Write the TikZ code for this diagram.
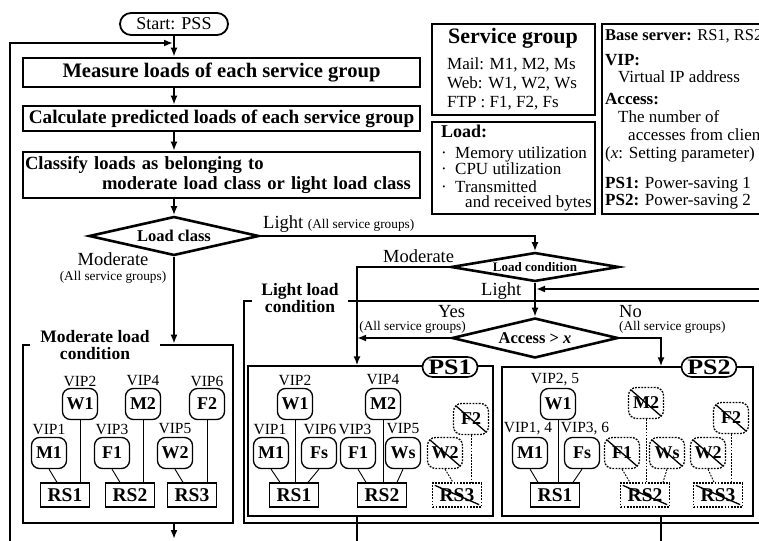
\documentclass[tikz,border=0pt]{standalone}
\usepackage{fontspec}
\usepackage{graphicx}
\setmainfont{Liberation Serif}
\usetikzlibrary{arrows.meta,shapes.geometric,calc}
\newcommand\fsz[1]{\fontsize{#1}{#1}\selectfont}
\newcommand\crossnode[1]{\draw[line width=1.3pt] ([shift={(3,3)}]#1.north west) -- ([shift={(-3,-3)}]#1.south east);}
\newcommand\widetext[1]{\scalebox{1.18}[1]{#1}}
\begin{document}
\begin{tikzpicture}[x=1pt,y=-1pt,
  conn/.style={line width=1.8pt, -{Latex[length=9pt,width=7pt]}},
  plain/.style={line width=1.8pt},
  proc/.style={draw, line width=2.6pt, minimum width=397pt, font=\fontsize{19.2}{20}\selectfont\bfseries, inner sep=2pt},
  dec/.style={draw, diamond, line width=2.6pt, inner sep=0pt},
  srv/.style={draw, rounded corners=8pt, line width=1.3pt, minimum width=35pt, minimum height=31pt, inner sep=0pt, font=\fsz{18}\bfseries},
  rsbox/.style={draw, line width=1.3pt, minimum width=49pt, minimum height=24pt, inner sep=0pt, font=\fsz{19.5}\bfseries},
  off/.style={dash pattern=on 1.8pt off 1.3pt},
  vip/.style={font=\fsz{15.5}, inner sep=0pt},
  thinl/.style={line width=0.9pt},
  lbl/.style={inner sep=0pt, anchor=base west},
  big/.style={font=\fsz{18.5}},
  small/.style={font=\fsz{13.3}},
  leg/.style={inner sep=0pt, anchor=base west, font=\fsz{17}},
  pslab/.style={draw, rounded corners=10pt, line width=1.6pt, fill=white, minimum width=55pt, minimum height=20pt, inner sep=0pt, font=\fsz{22}\bfseries},
  ptitle/.style={fill=white, inner sep=0pt, align=center, font=\fontsize{17.5}{16.5}\selectfont\bfseries}
]
\useasboundingbox (0,0) rectangle (759,540);
\clip (0,0) rectangle (759,540);

% ---------- main flow ----------
\node[draw, rounded corners=11pt, line width=1.8pt, minimum width=108pt, minimum height=22pt, inner sep=0pt, font=\fsz{18}] (start) at (174,24) {Start: PSS};
\node[proc, minimum height=29pt, font=\fsz{20.6}\bfseries] (measure) at (221.5,72.5) {Measure loads of each service group};
\node[proc, minimum height=25pt] (calc) at (221.5,118.5) {Calculate predicted loads of each service group};
\node[proc, minimum height=46pt, text width=393pt, align=left, inner xsep=0pt, inner ysep=0pt, font=\fontsize{18.6}{19.5}\selectfont\bfseries] (classify) at (221.5,175) {Classify loads as belonging to\\\hspace*{77pt}moderate load class or light load class};

\node[dec, minimum width=170pt, minimum height=39pt, aspect=4.36, font=\fsz{16.5}\bfseries] (lclass) at (174,236) {Load class};
\node[dec, minimum width=168pt, minimum height=29pt, aspect=5.8, font=\fsz{13}\bfseries] (lcond) at (535,267) {Load condition};
\node[dec, minimum width=166pt, minimum height=40pt, aspect=4.15, font=\fsz{16.5}\bfseries] (access) at (535,338) {Access > \textit{x}};

% moderate load condition box
\node[draw, line width=2.6pt, minimum width=210pt, minimum height=178pt] (modbox) at (128,434) {};
\node[ptitle, minimum width=130pt] (modtitle) at (95,345) {Moderate load\\condition};

% light load condition bracket
\draw[line width=2.6pt] (765,301) -| (244,523) -- (765,523);
\node[ptitle, minimum width=96pt] (lighttitle) at (300,298) {Light load\\condition};

% PS boxes
\node[draw, line width=1.3pt, minimum width=245pt, minimum height=150pt] (ps1) at (370.5,441) {};
\node[draw, line width=1.3pt, minimum width=251pt, minimum height=149pt] (ps2) at (627.5,441.5) {};
\node[pslab] (ps1lab) at (450,367) {\widetext{PS1}};
\node[pslab] (ps2lab) at (709,367) {\widetext{PS2}};

% coordinates
\coordinate (loopbot) at (10,545);
\coordinate (loopjoin) at (173,43);
\coordinate (modout) at (174,539);
\coordinate (ps1x) at (357,0);
\coordinate (ps2x) at (661,0);
\coordinate (rloop) at (765,289);
\coordinate (ps1end) at (357,545);
\coordinate (ps2end) at (661,545);

% connectors
\draw[conn] (loopbot) |- (loopjoin);
\draw[conn] (start.south) -- (measure.north -| start.south);
\draw[conn] (measure.south -| start.south) -- (calc.north -| start.south);
\draw[conn] (calc.south -| start.south) -- (classify.north -| start.south);
\draw[conn] (classify.south -| start.south) -- (lclass.north);
\draw[conn] (lclass.east) -| (lcond.north);
\draw[conn] (lclass.south) -- (lclass.south |- modbox.north);
\draw[conn] (modbox.south -| lclass.south) -- (modout);
\draw[conn] (lcond.west) -| (ps1.north -| ps1x);
\draw[conn] (access.west) -- (access.west -| ps1x);
\draw[conn] (lcond.south) -- (access.north);
\draw[conn, shorten >=1pt] (rloop) -- (rloop -| lcond.south);
\draw[conn] (access.east) -| (ps2.north -| ps2x);
\draw[plain] (ps1.south -| ps1x) -- (ps1end);
\draw[plain] (ps2.south -| ps2x) -- (ps2end);

% connector labels
\node[lbl, big] (llight) at (263,228) {Light {\fsz{13.3}(All service groups)}};
\node[align=center, inner sep=0pt, font=\fontsize{18.5}{15}\selectfont] (lmod) at (113,268) {Moderate\\{\fsz{13.3}(All service groups)}};
\node[lbl, big] (lmod2) at (383,262) {Moderate};
\node[lbl, big] (llight2) at (481,295) {Light};
\node[lbl, big] (lyes) at (438,317) {Yes};
\node[inner sep=0pt, anchor=base east, small] (lyes2) at (466,330) {(All service groups)};
\node[lbl, big] (lno) at (619,317) {No};
\node[lbl, small] (lno2) at (619,330) {(All service groups)};

% ---------- moderate box contents ----------
\node[srv] (mW1) at (80,404) {W1};
\node[srv] (mM2) at (143,404) {M2};
\node[srv] (mF2) at (207,404) {F2};
\node[srv] (mM1) at (49,453) {M1};
\node[srv] (mF1) at (112,453) {F1};
\node[srv] (mW2) at (175,453) {W2};
\node[rsbox] (mRS1) at (65,495) {RS1};
\node[rsbox] (mRS2) at (130,495) {RS2};
\node[rsbox] (mRS3) at (192,495) {RS3};
\node[vip] (mv2) at (80,381) {VIP2};
\node[vip] (mv4) at (143,381) {VIP4};
\node[vip] (mv6) at (207,381) {VIP6};
\node[vip] (mv1) at (49,429) {VIP1};
\node[vip] (mv3) at (112,429) {VIP3};
\node[vip] (mv5) at (175,429) {VIP5};
\draw[thinl] (mM1.south) -- ([xshift=-8pt]mRS1.north);
\draw[thinl] (mW1.south) -- (mW1.south |- mRS1.north);
\draw[thinl] (mF1.south) -- ([xshift=-10pt]mRS2.north);
\draw[thinl] (mM2.south) -- (mM2.south |- mRS2.north);
\draw[thinl] (mW2.south) -- ([xshift=-9pt]mRS3.north);
\draw[thinl] (mF2.south) -- (mF2.south |- mRS3.north);

% ---------- PS1 contents ----------
\node[srv] (aW1) at (295,404) {W1};
\node[srv] (aM1) at (271,453) {M1};
\node[srv] (aFs) at (319,453) {Fs};
\node[rsbox] (aRS1) at (294,495) {RS1};
\node[srv] (aM2) at (383,404) {M2};
\node[srv] (aF1) at (358,453) {F1};
\node[srv] (aWs) at (403,453) {Ws};
\node[rsbox] (aRS2) at (382,495) {RS2};
\node[srv, off] (aF2) at (471,419) {F2};
\node[srv, off] (aW2) at (445,453) {W2};
\node[rsbox, off] (aRS3) at (457,495) {RS3};
\node[vip] (av2) at (295,380) {VIP2};
\node[vip] (av1) at (270,429) {VIP1};
\node[vip] (av6) at (320,429) {VIP6};
\node[vip] (av4) at (383,380) {VIP4};
\node[vip] (av3) at (355,429) {VIP3};
\node[vip] (av5) at (403,429) {VIP5};
\draw[thinl] (aM1.south) -- ([xshift=-14pt]aRS1.north);
\draw[thinl] (aW1.south) -- (aW1.south |- aRS1.north);
\draw[thinl] (aFs.south) -- ([xshift=14pt]aRS1.north);
\draw[thinl] (aF1.south) -- ([xshift=-16pt]aRS2.north);
\draw[thinl] (aM2.south) -- (aM2.south |- aRS2.north);
\draw[thinl] (aWs.south) -- ([xshift=15pt]aRS2.north);
\draw[thinl, off] (aW2.south) -- ([xshift=-4pt]aRS3.north);
\draw[thinl, off] (aF2.south) -- (aF2.south |- aRS3.north);
\crossnode{aF2}\crossnode{aW2}\crossnode{aRS3}

% ---------- PS2 contents ----------
\node[srv] (bW1) at (558,404) {W1};
\node[srv] (bM1) at (530,453) {M1};
\node[srv] (bFs) at (582,453) {Fs};
\node[rsbox] (bRS1) at (555,495) {RS1};
\node[srv, off] (bM2) at (646,403) {M2};
\node[srv, off] (bF1) at (622,453) {F1};
\node[srv, off] (bWs) at (667,453) {Ws};
\node[rsbox, off] (bRS2) at (645,495) {RS2};
\node[srv, off] (bF2) at (731,418) {F2};
\node[srv, off] (bW2) at (708,453) {W2};
\node[rsbox, off] (bRS3) at (718,495) {RS3};
\node[vip] (bv25) at (555,380) {VIP2, 5};
\node[vip] (bv14) at (528,429) {VIP1, 4};
\node[vip] (bv36) at (585,429) {VIP3, 6};
\draw[thinl] (bM1.south) -- ([xshift=-17pt]bRS1.north);
\draw[thinl] (bW1.south) -- (bW1.south |- bRS1.north);
\draw[thinl] (bFs.south) -- ([xshift=18pt]bRS1.north);
\draw[thinl, off] (bF1.south) -- ([xshift=-15pt]bRS2.north);
\draw[thinl, off] (bM2.south) -- (bM2.south |- bRS2.north);
\draw[thinl, off] (bWs.south) -- ([xshift=18pt]bRS2.north);
\draw[thinl, off] (bW2.south) -- ([xshift=-4pt]bRS3.north);
\draw[thinl, off] (bF2.south) -- (bF2.south |- bRS3.north);
\crossnode{bM2}\crossnode{bF1}\crossnode{bWs}\crossnode{bRS2}\crossnode{bF2}\crossnode{bW2}\crossnode{bRS3}

% ---------- legends ----------
\node[draw, line width=1.3pt, minimum width=163pt, minimum height=91pt] (sgbox) at (513.5,69.5) {};
\node[inner sep=0pt, anchor=base, font=\fsz{22}\bfseries] (sgtitle) at (513,44) {Service group};
\node[leg] (sg1) at (447,70) {Mail: M1, M2, Ms};
\node[leg] (sg2) at (447,89) {Web: W1, W2, Ws};
\node[leg] (sg3) at (447,108) {FTP : F1, F2, Fs};

\node[draw, line width=1.3pt, minimum width=163pt, minimum height=92pt] (ldbox) at (513.5,168) {};
\node[leg, font=\fsz{18}\bfseries] (ldtitle) at (441,138) {Load:};
\node[leg] (ld1) at (438,158) {\makebox[17pt][l]{\,·}Memory utilization};
\node[leg] (ld2) at (438,175) {\makebox[17pt][l]{\,·}CPU utilization};
\node[leg] (ld3) at (438,192) {\makebox[17pt][l]{\,·}Transmitted};
\node[leg] (ld4) at (465,207) {and received bytes};

\node[draw, line width=1.3pt, minimum width=200pt, minimum height=190pt] (rbox) at (702,119) {};
\node[leg, font=\fsz{16.5}] (r1) at (605,41) {\textbf{Base server:} RS1, RS2};
\node[leg, font=\fsz{17}\bfseries] (r2) at (605,66) {VIP:};
\node[leg] (r3) at (618,83) {Virtual IP address};
\node[leg, font=\fsz{17}\bfseries] (r4) at (605,105) {Access:};
\node[leg] (r5) at (618,123) {The number of};
\node[leg] (r6) at (628,141) {accesses from clients};
\node[leg] (r7) at (605,158) {(\textit{x}: Setting parameter)};
\node[leg] (r8) at (605,188) {\textbf{PS1:} Power-saving 1};
\node[leg] (r9) at (605,205) {\textbf{PS2:} Power-saving 2};
\end{tikzpicture}
\end{document}
